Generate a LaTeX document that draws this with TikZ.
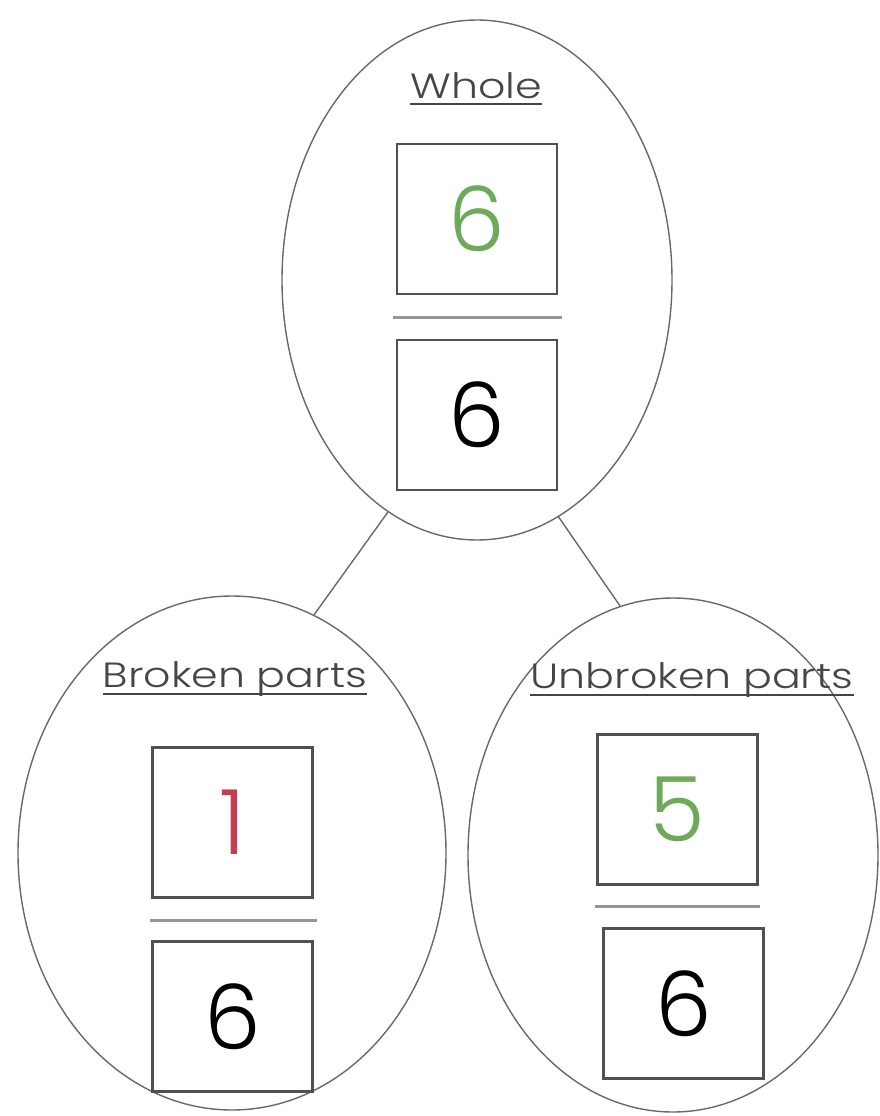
\documentclass[tikz,border=0pt]{standalone}
\usepackage{fontspec}
\setmainfont{Poppins}[UprightFont={* Light}]
\newfontfamily\titlefont{Poppins}[UprightFont={* Light},FakeStretch=1.22]
\usetikzlibrary{shapes.geometric}
\definecolor{numgreen}{RGB}{110,170,90}
\definecolor{numred}{RGB}{196,62,82}
\definecolor{boxgray}{RGB}{80,80,80}
\definecolor{ellgray}{RGB}{105,105,105}
\definecolor{fracgray}{RGB}{150,150,150}
\definecolor{textgray}{RGB}{70,70,70}
\tikzset{
  oval/.style={ellipse, draw=ellgray, line width=1.4pt, inner sep=0pt},
  numbox/.style={rectangle, draw=boxgray, line width=2.6pt, inner sep=0pt,
    minimum width=160pt, minimum height=150pt, font=\fontsize{90}{92}\selectfont},
  fracline/.style={draw=fracgray, line width=3pt},
  title/.style={anchor=base, inner sep=0pt, text=textgray, font=\titlefont\fontsize{35}{38}\selectfont},
  ul/.style={draw=textgray, line width=2pt},
  conn/.style={draw=ellgray, line width=1.4pt}
}
\begin{document}
\begin{tikzpicture}[x=1pt,y=-1pt]
\useasboundingbox (0,0) rectangle (879,1116);
\fill[white] (0,0) rectangle (879,1116);
% ellipses
\node[oval, minimum width=390pt, minimum height=520pt] (top) at (477,280) {};
\node[oval, minimum width=428pt, minimum height=514pt] (left) at (232,853) {};
\node[oval, minimum width=410pt, minimum height=514pt] (right) at (673,855) {};
% connectors
\draw[conn] (top.-111) -- (left.71);
\draw[conn] (top.-71) -- (right.102);
% titles
\node[title] (t1) at (476,98) {Whole};
\draw[ul] ([yshift=-6pt]t1.base west) -- ([yshift=-6pt]t1.base east);
\node[title] (t2) at (235,687) {Broken parts};
\draw[ul] ([yshift=-7pt]t2.base west) -- ([yshift=-7pt]t2.base east);
\node[title] (t3) at (692,688) {Unbroken parts};
\draw[ul] ([yshift=-7pt]t3.base west) -- ([yshift=-7pt]t3.base east);
% top fraction
\node[numbox, text=numgreen] (n1) at (477,219) {6};
\node[numbox, text=black] (d1) at (477,415) {6};
\coordinate (f1a) at (393,317);
\coordinate (f1b) at (562,317);
\draw[fracline] (f1a) -- (f1b);
% left fraction
\node[numbox, text=numred] (n2) at (232.5,822.5) {1};
\node[numbox, text=black] (d2) at (232.5,1016.5) {6};
\coordinate (f2a) at (150,920);
\coordinate (f2b) at (317,920);
\draw[fracline] (f2a) -- (f2b);
% right fraction
\node[numbox, text=numgreen] (n3) at (677.5,809.5) {5};
\node[numbox, text=black] (d3) at (683.5,1003.5) {6};
\coordinate (f3a) at (595,906);
\coordinate (f3b) at (760,906);
\draw[fracline] (f3a) -- (f3b);
\end{tikzpicture}
\end{document}
